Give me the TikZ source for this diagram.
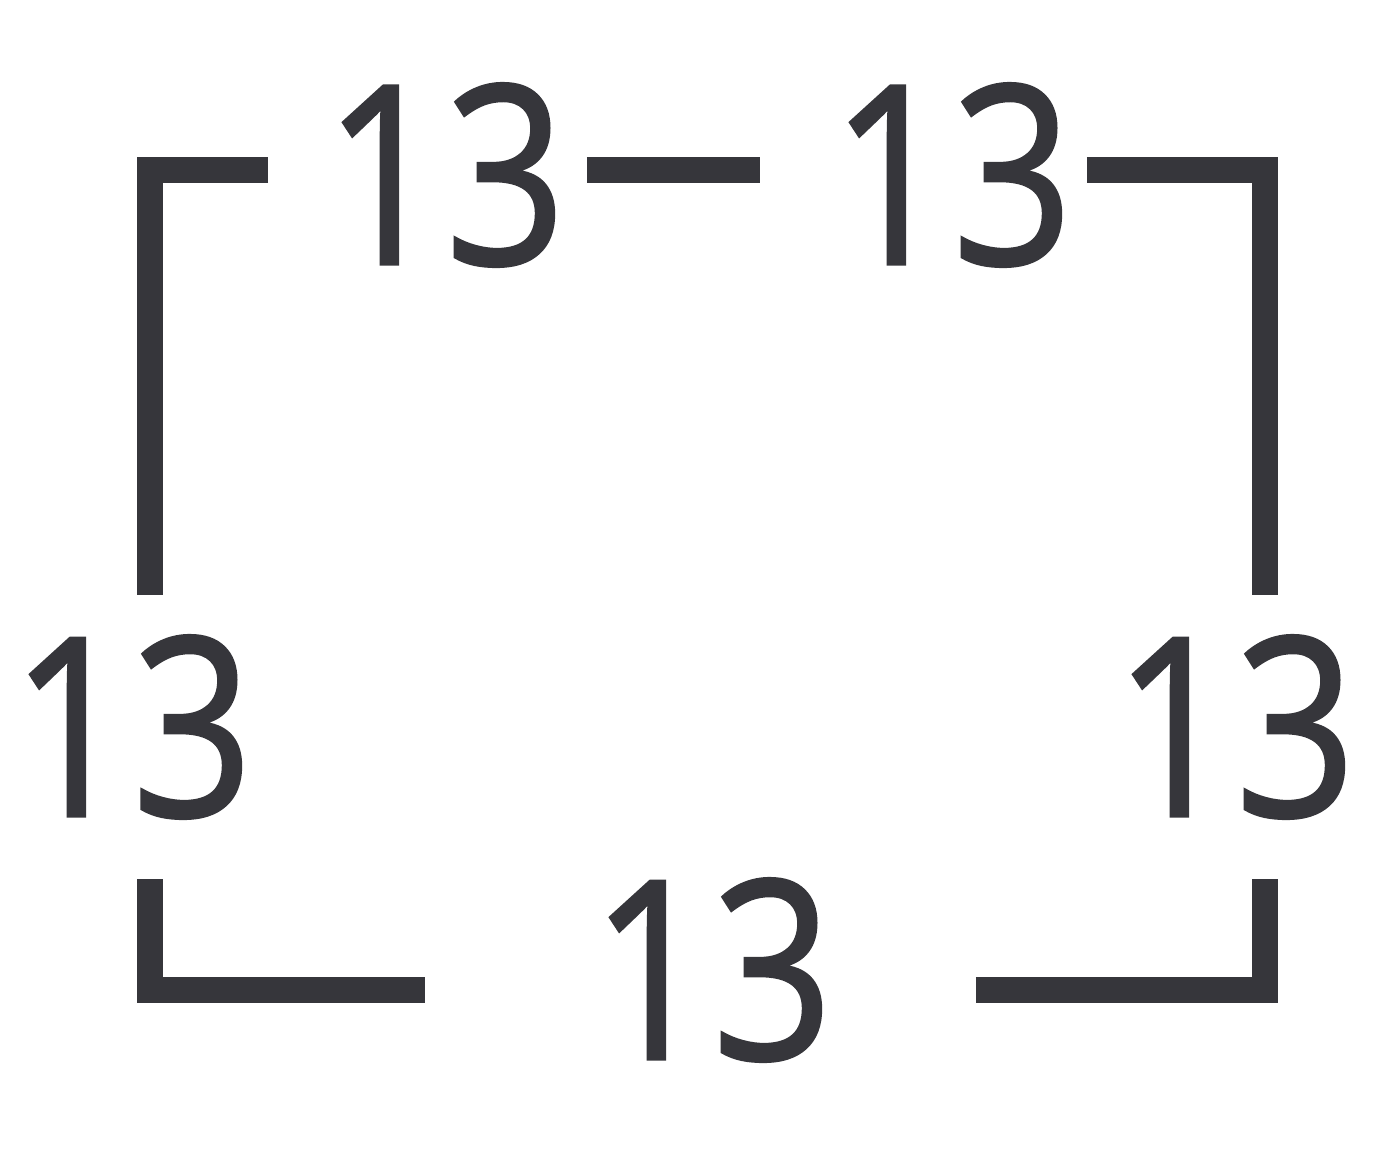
\documentclass[tikz,border=0pt]{standalone}
\usepackage{fontspec}
\setmainfont[FakeBold=1.2,BoldFont=*]{Open Sans}
\definecolor{ink}{HTML}{36363B}
\tikzset{
    num/.style={inner sep=0pt,text=ink,xscale=0.85,font=\fontsize{71}{71}\selectfont\bfseries},
    edge/.style={line width=7.2pt,draw=ink}
}
\begin{document}
\begin{tikzpicture}
        \useasboundingbox (0,0) rectangle (14,11.59);
        \node[num] (tl) at (4.45,9.84) {13};
        \node[num] (tr) at (9.52,9.84) {13};
        \node[num] (ln) at (1.32,4.32) {13};
        \node[num] (rn) at (12.35,4.32) {13};
        \node[num] (bn) at (7.12,1.89) {13};
        \coordinate (c1) at (1.5,9.89);
        \coordinate (c2) at (12.65,9.89);
        \coordinate (c3) at (1.5,1.69);
        \coordinate (c4) at (12.65,1.69);
        % top side
        \draw[edge,shorten <=0.55cm,shorten >=0.4cm] (tl.west |- c1) -- (c1) -- (c1 |- ln.north);
        \draw[edge,shorten <=0.2cm,shorten >=0.7cm] (tl.east |- c1) -- (tr.west |- c1);
        \draw[edge,shorten <=0.13cm,shorten >=0.4cm] (tr.east |- c2) -- (c2) -- (c2 |- rn.north);
        % bottom side
        \draw[edge,shorten <=0.6cm,shorten >=1.65cm] (c3 |- ln.south) -- (c3) -- (bn.west |- c3);
        \draw[edge,shorten <=1.42cm,shorten >=0.6cm] (bn.east |- c4) -- (c4) -- (c4 |- rn.south);
    \end{tikzpicture}
\end{document}
